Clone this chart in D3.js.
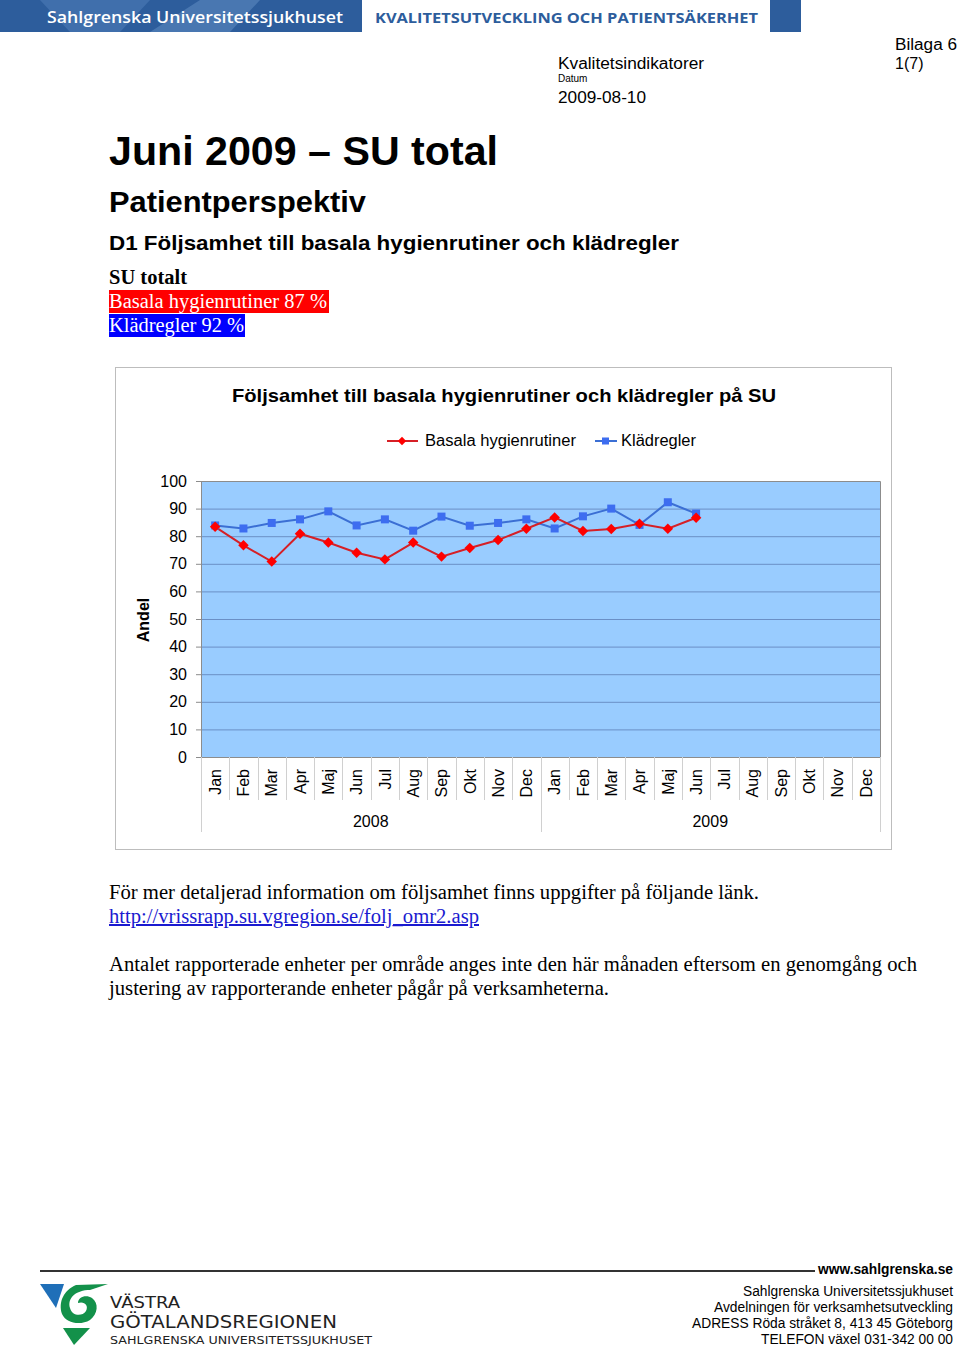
<!DOCTYPE html>
<html><head><meta charset="utf-8">
<script src="https://cdn.jsdelivr.net/npm/d3@7"></script>
<style>
body{margin:0;background:#fff;}
svg{display:block;}
</style></head>
<body>
<svg id="page" width="960" height="1348"></svg>
<script>
// ---- data ----
const months = ["Jan","Feb","Mar","Apr","Maj","Jun","Jul","Aug","Sep","Okt","Nov","Dec"];
const years = ["2008","2009"];
const categories = years.flatMap(yr => months.map(m => yr + "-" + m));
const basala = [83.4,76.7,70.8,80.9,77.7,74.0,71.6,77.7,72.6,75.7,78.6,82.7,
                86.8,81.9,82.6,84.5,82.7,86.7];
const kladregler = [83.9,82.8,84.8,86.1,89.0,83.9,86.1,82.0,87.1,83.8,84.8,86.1,
                    82.8,87.2,90.0,84.1,92.3,88.2];
const yTicks = [0,10,20,30,40,50,60,70,80,90,100];
const seriesNames = ["Basala hygienrutiner","Klädregler"];

const svg = d3.select("#page");
const SANS = "'Liberation Sans', Arial, sans-serif";
const SERIF = "'Liberation Serif', 'Times New Roman', serif";

function txt(g, o) {
  const t = g.append("text").attr("x",o.x).attr("y",o.y)
    .attr("font-family",o.f||SANS).attr("font-size",o.s).attr("fill",o.c||"#000");
  if (o.b) t.attr("font-weight","bold");
  if (o.a) t.attr("text-anchor",o.a);
  if (o.w) t.attr("textLength",o.w).attr("lengthAdjust","spacingAndGlyphs");
  if (o.u) t.attr("text-decoration","underline");
  t.text(o.t);
  return t;
}

// ---- header bar ----
const hdr = svg.append("g");
hdr.append("rect").attr("x",0).attr("y",0).attr("width",362).attr("height",32).attr("fill","#2d5d9c");
hdr.append("path").attr("d","M40,0 L150,0 L120,32 L70,32 Z").attr("fill","#4877b3").attr("opacity",0.7);
hdr.append("path").attr("d","M150,32 L200,0 L260,0 L230,32 Z").attr("fill","#5b88c0").attr("opacity",0.6);
hdr.append("text").attr("x",47).attr("y",23).attr("fill","#fff")
  .attr("font-family","'Open Sans', sans-serif").attr("font-weight",600).attr("font-size",17)
  .attr("textLength",296).attr("lengthAdjust","spacingAndGlyphs").text("Sahlgrenska Universitetssjukhuset");
hdr.append("text").attr("x",375).attr("y",23).attr("fill","#2d5d9c")
  .attr("font-family","'Open Sans', sans-serif").attr("font-weight",700).attr("font-size",15)
  .attr("textLength",383).attr("lengthAdjust","spacingAndGlyphs").text("KVALITETSUTVECKLING OCH PATIENTSÄKERHET");
hdr.append("rect").attr("x",770).attr("y",0).attr("width",31).attr("height",32).attr("fill","#2d5d9c");

// ---- top-right info ----
txt(svg,{x:895,y:50,s:16,t:"Bilaga 6",w:62});
txt(svg,{x:895,y:69,s:16,t:"1(7)"});
txt(svg,{x:558,y:69,s:16,t:"Kvalitetsindikatorer",w:146});
txt(svg,{x:558,y:82,s:10,t:"Datum"});
txt(svg,{x:558,y:103,s:16,t:"2009-08-10",w:88});

// ---- titles ----
txt(svg,{x:109,y:165,s:40,b:1,t:"Juni 2009 – SU total",w:389});
txt(svg,{x:109,y:212,s:30,b:1,t:"Patientperspektiv",w:257});
txt(svg,{x:109,y:250,s:21,b:1,t:"D1 Följsamhet till basala hygienrutiner och klädregler",w:570});
txt(svg,{x:109,y:284,s:20,b:1,f:SERIF,t:"SU totalt",w:78});
svg.append("rect").attr("x",109).attr("y",290).attr("width",220).attr("height",23).attr("fill","#ff0000");
txt(svg,{x:109,y:308,s:20,f:SERIF,c:"#fff",t:"Basala hygienrutiner 87 %",w:218});
svg.append("rect").attr("x",109).attr("y",314).attr("width",136).attr("height",23).attr("fill","#0000ff");
txt(svg,{x:109,y:332,s:20,f:SERIF,c:"#fff",t:"Klädregler 92 %",w:135});

// ---- chart ----
svg.append("rect").attr("x",115.5).attr("y",367.5).attr("width",776).attr("height",482).attr("fill","#fff").attr("stroke","#bdbdbd");
txt(svg,{x:232,y:402,s:19,b:1,t:"Följsamhet till basala hygienrutiner och klädregler på SU",w:544});

const x = d3.scaleBand().domain(categories).range([201,880]).padding(0);
const y = d3.scaleLinear().domain([0,100]).range([757,481]);
const redLine = "#d61f26", redMark = "#ff0000", blueLine = "#3b6fd4", blueMark = "#3d6df0";

svg.append("rect").attr("x",201).attr("y",y(100)).attr("width",679).attr("height",y(0)-y(100)).attr("fill","#99ccff");
svg.append("g").selectAll("line").data(yTicks.filter(t=>t>0 && t<100)).join("line")
  .attr("x1",201).attr("x2",880).attr("y1",d=>y(d)+0.5).attr("y2",d=>y(d)+0.5).attr("stroke","#6a8fc6").attr("stroke-width",1);
svg.append("path").attr("d",`M201,${y(100)+0.5} H880.5 V${y(0)}`).attr("fill","none").attr("stroke","#8c8c8c");

// y axis
const yAxis = svg.append("g").attr("transform","translate(201,0)")
  .call(d3.axisLeft(y).tickValues(yTicks).tickSize(5).tickPadding(9));
yAxis.select(".domain").attr("stroke","#8c8c8c");
yAxis.selectAll(".tick line").attr("stroke","#8c8c8c");
yAxis.selectAll("text").attr("font-family",SANS).attr("font-size",16).attr("fill","#000");

svg.append("text").attr("transform","translate(149,620) rotate(-90)").attr("text-anchor","middle")
  .attr("font-family",SANS).attr("font-weight","bold").attr("font-size",16).text("Andel");

// x axis
const xAxis = svg.append("g").attr("transform",`translate(0,${y(0)})`)
  .call(d3.axisBottom(x).tickSize(0).tickFormat(d=>d.split("-")[1]));
xAxis.select(".domain").attr("stroke","#8c8c8c");
xAxis.selectAll(".tick text")
  .attr("transform","translate(0,12) rotate(-90)").attr("text-anchor","end")
  .attr("x",0).attr("y",0).attr("dy","0.36em")
  .attr("font-family",SANS).attr("font-size",16).attr("fill","#000");
svg.append("g").selectAll("line").data(categories).join("line")
  .attr("x1",d=>Math.round(x(d))+0.5).attr("x2",d=>Math.round(x(d))+0.5)
  .attr("y1",y(0)).attr("y2",d=> d.endsWith("Jan") ? 832 : 800)
  .attr("stroke","#d0d0d0");
svg.append("line").attr("x1",880.5).attr("x2",880.5).attr("y1",y(0)).attr("y2",832).attr("stroke","#d0d0d0");
svg.append("g").selectAll("text").data(years).join("text")
  .attr("x",yr=>(x(yr+"-Jan")+x(yr+"-Dec")+x.bandwidth())/2).attr("y",827)
  .attr("text-anchor","middle").attr("font-family",SANS).attr("font-size",16).text(d=>d);

// lines
const lineGen = d3.line().x((d,i)=>x(categories[i])+x.bandwidth()/2).y(d=>y(d));
svg.append("path").datum(kladregler).attr("d",lineGen).attr("fill","none").attr("stroke",blueLine).attr("stroke-width",2);
svg.append("path").datum(basala).attr("d",lineGen).attr("fill","none").attr("stroke",redLine).attr("stroke-width",2);
svg.append("g").selectAll("rect").data(kladregler).join("rect")
  .attr("x",(d,i)=>x(categories[i])+x.bandwidth()/2-4).attr("y",d=>y(d)-4)
  .attr("width",8).attr("height",8).attr("fill",blueMark);
const diamond = d3.symbol().type(d3.symbolDiamond2).size(70);
svg.append("g").selectAll("path").data(basala).join("path")
  .attr("transform",(d,i)=>`translate(${x(categories[i])+x.bandwidth()/2},${y(d)})`)
  .attr("d",diamond).attr("fill",redMark);

// legend
const leg = svg.append("g");
leg.append("line").attr("x1",387).attr("x2",418).attr("y1",441).attr("y2",441).attr("stroke",redLine).attr("stroke-width",2);
leg.append("path").attr("transform","translate(402,441)").attr("d",d3.symbol().type(d3.symbolDiamond2).size(45)).attr("fill",redMark);
txt(leg,{x:425,y:446,s:16,t:seriesNames[0],w:151});
leg.append("line").attr("x1",595).attr("x2",617).attr("y1",441).attr("y2",441).attr("stroke",blueLine).attr("stroke-width",2);
leg.append("rect").attr("x",602).attr("y",437.5).attr("width",7).attr("height",7).attr("fill",blueMark);
txt(leg,{x:621,y:446,s:16,t:seriesNames[1],w:75});

// ---- text below chart ----
txt(svg,{x:109,y:899,s:20,f:SERIF,t:"För mer detaljerad information om följsamhet finns uppgifter på följande länk.",w:650});
txt(svg,{x:109,y:923,s:20,f:SERIF,c:"#1a1ad0",u:1,t:"http://vrissrapp.su.vgregion.se/folj_omr2.asp",w:370});
txt(svg,{x:109,y:971,s:20,f:SERIF,t:"Antalet rapporterade enheter per område anges inte den här månaden eftersom en genomgång och",w:808});
txt(svg,{x:109,y:995,s:20,f:SERIF,t:"justering av rapporterande enheter pågår på verksamheterna.",w:500});

// ---- footer ----
svg.append("line").attr("x1",40).attr("x2",815).attr("y1",1271).attr("y2",1271).attr("stroke","#333").attr("stroke-width",2);
txt(svg,{x:818,y:1274,s:14,b:1,t:"www.sahlgrenska.se",w:135});
const foot = [
  {y:1296,t:"Sahlgrenska Universitetssjukhuset",w:210},
  {y:1312,t:"Avdelningen för verksamhetsutveckling",w:239},
  {y:1328,t:"ADRESS Röda stråket 8, 413 45 Göteborg",w:261},
  {y:1344,t:"TELEFON växel 031-342 00 00",w:192}
];
foot.forEach(d=>txt(svg,{x:953-d.w,y:d.y,s:14,t:d.t,w:d.w}));

// logo
const logo = svg.append("g");
logo.append("path").attr("d","M40,1284 L64,1284 L56,1308 Z").attr("fill","#1f6fb8");
logo.append("path").attr("d","M108,1284 L76,1285 C64,1290 58,1302 62,1314 C66,1323 80,1326 90,1320 C98,1314 99,1303 92,1298 C86,1294 78,1297 78,1303 C84,1301 89,1305 86,1311 C82,1317 72,1316 70,1308 C67,1298 76,1290 90,1290 Z").attr("fill","#13914a");
logo.append("path").attr("d","M63,1328 L90,1328 L74,1345 Z").attr("fill","#13914a");
txt(logo,{x:110,y:1308,s:15,f:"'DejaVu Sans', sans-serif",c:"#222",t:"VÄSTRA",w:70});
txt(logo,{x:110,y:1328,s:17,f:"'DejaVu Sans', sans-serif",c:"#222",t:"GÖTALANDSREGIONEN",w:227});
txt(logo,{x:110,y:1344,s:11,f:"'DejaVu Sans', sans-serif",c:"#222",t:"SAHLGRENSKA UNIVERSITETSSJUKHUSET",w:262});
</script>
</body></html>
